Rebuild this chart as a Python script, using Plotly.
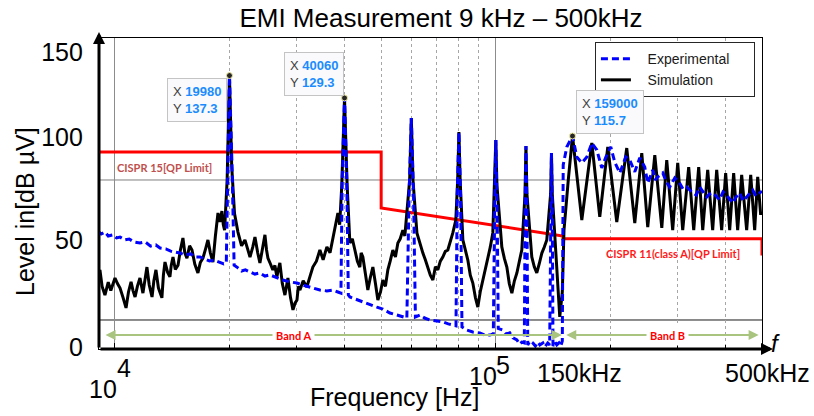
import numpy as np
import plotly.graph_objects as go

# ---------------- data (frequency in kHz, level in dBµV) ----------------
sim_freq_khz = [9.0, 9.06, 9.13, 9.25, 9.41, 9.6, 9.75, 10.0, 10.15, 10.31, 10.5, 10.69, 10.85, 11.02,
                11.15, 11.29, 11.45, 11.63, 11.84, 12.0, 12.13, 12.3, 12.51, 12.65, 12.81, 13.0, 13.28,
                13.4, 13.53, 13.75, 13.94, 14.05, 14.20, 14.4, 14.64, 14.85, 15.08, 15.25, 15.45, 15.7,
                15.93, 16.2, 16.51, 16.75, 17.02, 17.3, 17.54, 17.8, 18.08, 18.35, 18.64, 18.85, 19.09,
                19.25, 19.40, 19.70, 19.98, 20.25, 20.60,
                21.03, 21.5, 21.94, 22.3, 22.62, 23.0, 23.31, 23.7, 24.02, 24.4, 24.76, 25.0, 25.21,
                25.6, 25.97, 26.3, 26.61, 26.85, 27.10, 27.5, 27.94, 28.2, 28.45, 28.9, 29.33, 29.7,
                30.05, 30.3, 30.60, 31.2, 31.90, 32.5, 33.08, 33.8, 34.52, 35.2, 36.01, 36.7, 37.34,
                37.9, 38.49, 38.9, 39.40, 40.06, 40.70,
                41.38, 42.0, 42.65, 43.3, 43.95, 44.3, 44.76, 45.4, 46.13, 46.8, 47.55, 48.3, 49.01,
                49.8, 50.51, 51.3, 52.06, 52.8, 53.66, 54.5, 55.31, 56.1, 57.00, 57.7, 58.39, 59.40,
                60.00, 60.60,
                62.06, 63.2, 64.34, 65.3, 66.31, 67.3, 68.35, 69.4, 70.43, 71.5, 72.59, 73.7, 74.82,
                76.0, 77.11, 78.52, 79.40, 80.00, 80.60,
                81.93, 83.2, 84.44, 85.7, 87.03, 88.4, 89.70, 91.0, 92.45, 93.8, 95.28, 96.7, 98.20,
                99.30, 100.0, 100.7,
                103.7, 105.3, 106.9, 108.5, 110.2, 111.9, 113.6, 115.3, 117.0, 119.3, 120.0, 120.7,
                124.3, 126.2, 128.1, 130.0, 132.1, 134.0, 136.1, 139.3, 140.0, 140.7,
                144.6, 147.2, 149.5, 151.0, 155.0, 159.0, 168.2, 178.7, 187.5, 196.8, 207.8, 220.7,
                231.7, 241.7, 250.6, 261.5, 272.8, 281.1, 291.4, 300.4, 309.6, 321.0, 330.9, 341.0,
                349.4, 360.1, 371.1, 380.2, 391.8, 401.4, 411.3, 421.3, 431.6, 442.2, 455.8, 467.0,
                478.4, 487.2, 496.1]
sim_db = [61.4, 66.0, 67.9, 62.0, 58.9, 63.5, 60.5, 65.0, 63.0, 61.4, 58.0, 54.3, 60.0, 63.6,
          60.5, 58.2, 62.0, 65.0, 59.6, 64.0, 68.9, 62.5, 58.2, 64.0, 67.9, 61.5, 57.9,
          66.0, 70.7, 67.0, 65.4, 69.5, 72.5, 68.0, 69.6, 75.0, 79.3, 74.0, 72.1, 76.5,
          75.0, 70.0, 66.8, 70.5, 72.1, 75.5, 78.6, 74.0, 70.7, 80.0, 88.2, 85.0, 88.9,
          84.0, 82.1, 100.0, 137.3, 105.0, 88.0,
          81.4, 76.5, 78.6, 75.0, 72.5, 76.0, 79.6, 74.0, 70.4, 75.5, 80.4, 75.0, 72.1,
          70.0, 67.9, 69.5, 65.4, 68.0, 70.4, 63.0, 58.9, 62.0, 65.0, 58.0, 53.6, 56.0,
          57.1, 62.0, 60.7, 64.0, 61.8, 65.5, 68.9, 71.0, 75.0, 71.5, 76.1, 74.0, 79.6,
          83.0, 88.2, 84.0, 98.0, 129.3, 98.0,
          77.5, 79.0, 75.0, 71.0, 68.9, 74.0, 72.5, 66.0, 60.7, 65.0, 68.9, 63.0, 57.1,
          60.0, 64.3, 62.0, 67.9, 71.0, 75.0, 72.5, 77.5, 79.0, 82.1, 80.0, 88.2, 100.0,
          122.1, 100.0,
          81.1, 77.0, 73.9, 71.5, 68.9, 66.0, 64.3, 69.0, 67.9, 71.0, 72.5, 74.5, 75.0,
          78.0, 81.1, 85.7, 100.0, 117.1, 100.0,
          78.6, 75.0, 71.4, 66.0, 63.2, 58.0, 54.6, 60.0, 64.3, 68.0, 71.4, 76.0, 81.1,
          98.0, 114.3, 98.0,
          76.1, 72.0, 68.9, 63.0, 59.6, 64.0, 66.8, 71.0, 75.0, 95.0, 112.1, 95.0,
          72.5, 69.0, 66.8, 70.0, 73.9, 76.0, 78.6, 95.0, 109.6, 95.0,
          67.9, 51.1, 60.0, 82.0, 100.0, 115.7, 85.7, 113.2, 86.8, 111.8, 85.0, 111.4,
          84.6, 109.6, 83.2, 108.9, 82.9, 107.1, 82.1, 106.1, 82.1, 104.6, 82.1, 104.6,
          82.1, 103.6, 82.1, 103.6, 82.1, 102.5, 82.1, 102.5, 82.1, 101.8, 82.1, 101.8,
          82.1, 101.1, 87.5]

exp_freq_khz = [9.02, 9.2, 9.41, 9.6, 9.88, 10.1, 10.31, 10.62, 10.9, 11.2, 11.63, 12.0, 12.4, 12.8,
                13.13, 13.6, 14.0, 14.4, 14.81, 15.3, 15.8, 16.2, 16.72, 17.2, 17.7, 18.2, 18.86,
                19.3, 19.6, 19.75, 19.98, 20.3, 20.55, 21.03, 21.5, 22.0, 22.62, 23.3, 24.0, 24.76,
                25.51, 26.61, 27.6, 28.8, 30.05, 31.13, 32.5, 34.52, 36.0, 37.34, 38.49, 39.2,
                39.5, 40.06, 40.6, 41.0, 41.38, 42.65, 44.76, 46.5, 48.72, 50.5, 52.7, 55.0, 57.0,
                58.4, 59.2, 60.0, 60.8, 61.5, 63.19, 65.0, 67.12, 70.0, 72.59, 75.0, 77.11, 78.6,
                79.2, 80.0, 80.8, 81.5, 83.93, 87.0, 90.78, 93.5, 96.45, 98.5, 99.3, 100.0, 100.8,
                101.5, 104.3, 106.5, 108.8, 111.0, 113.6, 115.5, 117.0, 118.8, 119.4, 120.0, 120.7,
                121.3, 123.0, 125.1, 127.0, 129.0, 130.5, 132.9, 134.5, 136.9, 138.5, 139.4, 140.0,
                140.7, 141.3, 143.0, 144.6, 146.5, 148.1, 149.5, 150.3, 153.6, 159.0, 163.2, 168.2,
                173.4, 178.7, 184.2, 189.8, 194.5, 200.4, 205.3, 211.6, 219.4, 224.8, 231.7, 238.8,
                246.1, 250.6, 258.3, 262.0, 266.2, 274.4, 280.0, 286.2, 295.0, 304.0, 310.0, 317.2,
                328.9, 336.0, 343.1, 350.0, 357.9, 364.0, 371.1, 379.0, 387.1, 395.0, 403.9, 411.0,
                418.8, 428.0, 436.9, 446.0, 455.8, 464.0, 472.6, 482.0, 493.1, 500.0]
exp_db = [81.8, 80.7, 81.4, 80.0, 80.4, 79.3, 79.6, 78.6, 78.9, 77.9, 77.5, 77.9, 76.4, 76.8,
          75.7, 75.4, 74.6, 74.3, 73.9, 73.2, 73.6, 72.5, 72.5, 71.8, 71.1, 71.4, 70.7,
          70.0, 70.4, 105.0, 137.3, 104.0, 69.6, 68.6, 67.5, 67.9, 67.1, 66.4, 66.8, 65.7,
          66.1, 65.0, 64.3, 63.6, 63.2, 62.5, 61.8, 60.7, 60.4, 60.7, 60.0, 59.6,
          100.0, 129.3, 100.0, 58.9, 58.2, 57.5, 56.4, 55.7, 54.6, 53.9, 52.5, 51.8, 51.1,
          50.7, 95.0, 122.1, 95.0, 51.1, 51.8, 50.7, 50.0, 49.6, 49.3, 48.6, 48.2, 47.9,
          95.0, 117.1, 95.0, 47.5, 46.4, 45.7, 45.4, 44.6, 44.6, 45.0, 90.0, 114.3, 90.0,
          47.0, 46.4, 45.0, 45.4, 43.6, 42.9, 41.4, 42.1, 41.8, 90.0, 112.1, 90.0,
          41.1, 42.5, 41.8, 40.7, 42.1, 41.1, 41.8, 40.4, 41.8, 41.1, 90.0, 109.6,
          90.0, 40.7, 42.1, 41.1, 41.8, 40.7, 42.5, 105.4, 111.8, 115.7, 108.2, 106.1,
          108.2, 113.2, 110.7, 104.3, 108.2, 111.8, 106.4, 102.5, 108.2, 107.1, 102.9, 107.9,
          104.6, 98.9, 103.6, 100.0, 101.1, 102.5, 99.6, 97.5, 100.7, 98.9, 96.8, 97.5,
          95.4, 94.6, 97.5, 96.0, 93.9, 95.0, 95.4, 94.3, 92.9, 95.7, 94.6, 93.2,
          91.8, 94.0, 95.4, 92.5, 93.9, 95.0, 96.4, 94.3, 95.4, 96.0]

limit_freq_khz = [9, 50, 50, 150, 150, 500, 500]
limit_db = [110, 110, 90, 80, 79, 79, 73]

tip_freq_hz = [19980, 40060, 159000]
tip_db = [137.3, 129.3, 115.7]

ref_levels_db = [100, 50]            # gray reference line, band separator line
ytick_vals = [40.4, 78.6, 115.4, 145.7]
ytick_text = ["0", "50", "100", "150"]
major_x = [1e4, 1e5]
minor_x = [2e4, 3e4, 4e4, 5e4, 6e4, 7e4, 8e4, 9e4, 2e5, 3e5, 4e5]
band_edge_hz = 150e3

sim_f = [v * 1e3 for v in sim_freq_khz]
exp_f = [v * 1e3 for v in exp_freq_khz]
lim_f = [v * 1e3 for v in limit_freq_khz]

FONT = "Arial, Liberation Sans, sans-serif"
LBL = "Lato, Arial, sans-serif"
NB = "\u00a0"

fig = go.Figure()

fig.add_trace(go.Scatter(x=lim_f, y=limit_db, mode="lines", line=dict(color="#ff0000", width=3),
                         showlegend=False, hoverinfo="skip"))
fig.add_trace(go.Scatter(x=sim_f, y=sim_db, mode="lines", name=NB * 3 + "Simulation" + NB * 5,
                         line=dict(color="black", width=3), legendrank=2))
fig.add_trace(go.Scatter(x=exp_f, y=exp_db, mode="lines", name=NB * 3 + "Experimental" + NB * 5,
                         line=dict(color="#0000ff", width=3, dash="7px,4px"), legendrank=1))
fig.add_trace(go.Scatter(x=tip_freq_hz, y=tip_db, mode="markers", showlegend=False,
                         marker=dict(size=6, color="#262626", line=dict(color="#f2eda0", width=1))))

# reference lines
fig.add_shape(type="line", xref="paper", x0=0, x1=1, yref="y", y0=ref_levels_db[0], y1=ref_levels_db[0],
              line=dict(color="#7f7f7f", width=1), layer="below")
fig.add_shape(type="line", xref="paper", x0=0, x1=1, yref="y", y0=ref_levels_db[1], y1=ref_levels_db[1],
              line=dict(color="#1a1a1a", width=1), layer="below")
fig.add_shape(type="line", xref="x", x0=np.log10(band_edge_hz), x1=np.log10(band_edge_hz), yref="paper",
              y0=0, y1=1, line=dict(color="#9a9a9a", width=1.5, dash="dash"), layer="below")

ann = []
# data tips
tip_layout = [("right", "top", -2, -2), ("right", "bottom", -1, 2), ("left", "bottom", 3, 2)]
for f, d, (xa, ya, xs, ys) in zip(tip_freq_hz, tip_db, tip_layout):
    ann.append(dict(x=np.log10(f), y=d, xref="x", yref="y", showarrow=False, xanchor=xa, yanchor=ya,
                    xshift=xs, yshift=ys, align="left",
                    text=f"X <span style='color:#1a8cff'><b>{f}</b></span><br>Y <span style='color:#1a8cff'><b>{d}</b></span>",
                    font=dict(family=FONT, size=13, color="#404040"),
                    bgcolor="#fafafc", bordercolor="#c4c4c4", borderwidth=1, borderpad=5))

# limit labels
ann.append(dict(x=4.1312, y=104.6, xref="x", yref="y", showarrow=False, text="<b>CISPR 15[QP Limit]</b>",
                font=dict(family=LBL, size=11, color="#c0504d")))
ann.append(dict(x=5.4659, y=73.9, xref="x", yref="y", showarrow=False, text="<b>CISPR 11(class A)[QP Limit]</b>",
                font=dict(family=LBL, size=11, color="#ff1a1a")))

# band arrows
band_arrows = [(9.36e3, 149.1e3, 29.5e3, "Band A"), (151.7e3, 490e3, 281.9e3, "Band B")]
for lo, hi, mid, txt in band_arrows:
    ann.append(dict(x=np.log10(hi), y=44.6, ax=np.log10(lo), ay=44.6, xref="x", yref="y", axref="x", ayref="y",
                    text="", showarrow=True, arrowhead=2, arrowside="end+start", arrowsize=1, arrowwidth=2,
                    arrowcolor="#a9c47f"))
    ann.append(dict(x=np.log10(mid), y=44.6, xref="x", yref="y", showarrow=False, text=f"<b>{txt}</b>",
                    bgcolor="white", borderpad=3, xanchor="center",
                    font=dict(family=LBL, size=11, color="#ff0000")))

# axis arrows
ann.append(dict(x=0, y=1.019, xref="paper", yref="paper", ax=0, ay=317, text="", showarrow=True,
                arrowhead=2, arrowsize=0.8, arrowwidth=3, arrowcolor="black"))
ann.append(dict(x=1.0166, y=0, xref="paper", yref="paper", ax=-674, ay=0, text="", showarrow=True,
                arrowhead=2, arrowsize=0.8, arrowwidth=3, arrowcolor="black"))
ann.append(dict(x=1.021, y=0.0096, xref="paper", yref="paper", showarrow=False, text="<i>f</i>",
                xanchor="center", yanchor="middle", yshift=3,
                font=dict(family=FONT, size=24, color="black")))

# x tick labels
xlab = [(4, -11.5, -39.5, "10"), (4, 9, -18.5, "4"), (5, -13, -27, "10"), (5, 7, -16, "5"),
        (np.log10(1.5e5), 16.5, -24, "150kHz"), (np.log10(5e5), 5.5, -24, "500kHz")]
for xv, xs, ys, t in xlab:
    ann.append(dict(x=xv, y=0, xref="x", yref="paper", showarrow=False, text=t, xshift=xs, yshift=ys,
                    xanchor="center", yanchor="middle", font=dict(family=FONT, size=25, color="black")))

# axis titles
ann.append(dict(x=0.4465, y=-0.154, xref="paper", yref="paper", showarrow=False, text="Frequency [Hz]",
                xanchor="center", yanchor="middle", font=dict(family=FONT, size=25, color="black")))
ann.append(dict(x=-0.1116, y=0.4405, xref="paper", yref="paper", showarrow=False, text="Level in[dB µV]",
                textangle=-90, xanchor="center", yanchor="middle",
                font=dict(family=FONT, size=25, color="black")))

fig.update_layout(
    width=814, height=416, margin=dict(l=99, r=52, t=38, b=67),
    paper_bgcolor="white", plot_bgcolor="white",
    font=dict(family=FONT, color="black"),
    title=dict(text="EMI Measurement 9 kHz – 500kHz", x=0.5158, xref="paper", xanchor="center",
               y=0.957, yref="container", yanchor="middle", font=dict(family=FONT, size=26, color="black")),
    legend=dict(x=0.748, y=0.987, xanchor="left", yanchor="top", bgcolor="white", bordercolor="#262626",
                borderwidth=1, font=dict(family=FONT, size=14, color="#1a1a1a"), itemwidth=30,
                tracegroupgap=0),
    annotations=ann,
    xaxis=dict(type="log", range=[3.958, 5.699], tickvals=major_x, showticklabels=False,
               showgrid=True, gridcolor="#8c8c8c", gridwidth=1, ticks="inside", ticklen=6, tickcolor="black",
               showline=True, linecolor="black", linewidth=1.3, mirror=True, zeroline=False,
               minor=dict(tickvals=minor_x, ticks="inside", ticklen=4, tickcolor="black", showgrid=True,
                          gridcolor="#a6a6a6", griddash="dot", gridwidth=1)),
    yaxis=dict(range=[39.64, 150.71], tickvals=ytick_vals, ticktext=ytick_text, showgrid=False, ticks="",
               showline=True, linecolor="black", linewidth=1.3, mirror=True, zeroline=False,
               tickfont=dict(family=FONT, size=25, color="black"), ticklabelstandoff=10),
)

fig.write_html("out.html")
